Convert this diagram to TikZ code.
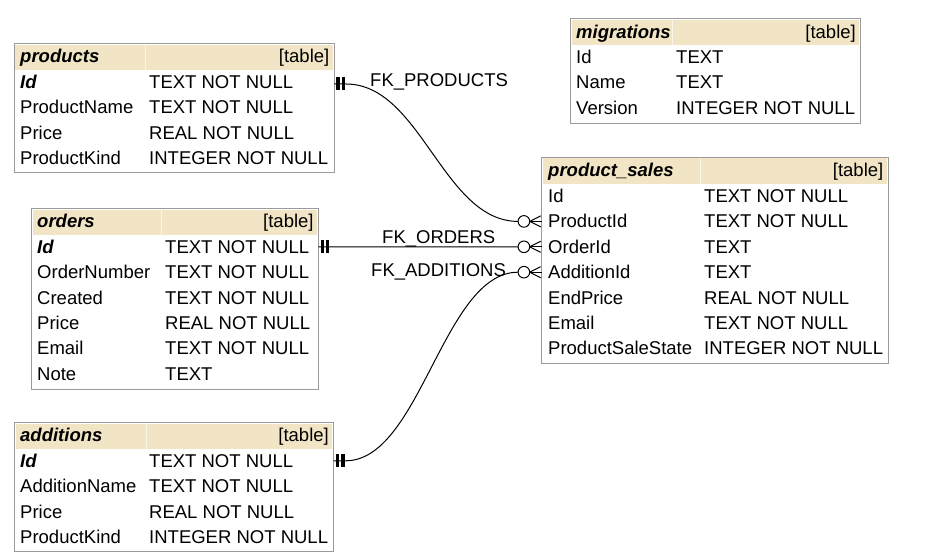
\documentclass[tikz,border=0pt]{standalone}
\usepackage{fontspec}
\setmainfont{Liberation Sans}
\definecolor{boxgray}{HTML}{9A9A9A}
\definecolor{hdrbeige}{HTML}{F1E5C6}
\newcommand{\erdbox}[8]{% name, x1, y1, x2, y2, title, sep x, title x
  \fill[hdrbeige] (#2+1.2,#3+1.2) rectangle (#4-1.2,#3+26.5);
  \draw[white!65!hdrbeige, line width=0.8pt] (#7,#3+1.2) -- (#7,#3+26.5);
  \node[tbox, minimum width={(#4-#2)*1pt}, minimum height={(#5-#3)*1pt}] (#1) at (#2,#3) {};
  \node[cell, font=\erdfont\bfseries\itshape] (#1-title) at (#8,#3+12.8) {#6};
  \node[cell, anchor=east] (#1-kind) at (#4-4.5,#3+12.8) {[table]};
}
\newcommand{\erdrows}[5]{% name, x text, x type, y first, list
  \foreach \a/\b [count=\i] in {#5} {
    \node[cell] (#1-n\i) at (#2,{#4+25.4*(\i-1)}) {\a};
    \node[cell] (#1-t\i) at (#3,{#4+25.4*(\i-1)}) {\b};
  }}
\newcommand{\erdfont}{\fontsize{18.5}{20}\selectfont}
\begin{document}
\begin{tikzpicture}[x=1pt,y=-1pt,
  tbox/.style={draw=boxgray, line width=1pt, inner sep=0pt, outer sep=0pt, anchor=north west},
  cell/.style={inner sep=0pt, anchor=west, text height=13pt, text depth=0pt, font=\erdfont},
  rel/.style={line width=1pt, black},
  onebar/.style={line width=3.2pt, black},
  optcircle/.style={draw=black, line width=1pt, fill=white}]
\useasboundingbox (0,0) rectangle (945,559);

% ---------- products
\erdbox{products}{14}{43.5}{334}{172}{products}{145}{20}
\erdrows{products}{20}{149}{82}{{\textbf{\textit{Id}}}/TEXT NOT NULL, ProductName/TEXT NOT NULL, Price/REAL NOT NULL, ProductKind/INTEGER NOT NULL}

% ---------- migrations
\erdbox{migrations}{570.5}{19}{860.5}{124}{migrations}{672}{576}
\erdrows{migrations}{576}{676}{57}{Id/TEXT, Name/TEXT, Version/INTEGER NOT NULL}

% ---------- orders
\erdbox{orders}{31.5}{208.3}{318.3}{389.5}{orders}{161.5}{37}
\erdrows{orders}{37}{165}{246.8}{{\textbf{\textit{Id}}}/TEXT NOT NULL, OrderNumber/TEXT NOT NULL, Created/TEXT NOT NULL, Price/REAL NOT NULL, Email/TEXT NOT NULL, Note/TEXT}

% ---------- product_sales
\erdbox{sales}{541.7}{157.3}{888}{363.3}{product\_sales}{700}{548}
\erdrows{sales}{548}{704}{196}{Id/TEXT NOT NULL, ProductId/TEXT NOT NULL, OrderId/TEXT, AdditionId/TEXT, EndPrice/REAL NOT NULL, Email/TEXT NOT NULL, ProductSaleState/INTEGER NOT NULL}

% ---------- additions
\erdbox{additions}{14.5}{422.3}{333.5}{551.5}{additions}{146}{20}
\erdrows{additions}{20}{149}{460.8}{{\textbf{\textit{Id}}}/TEXT NOT NULL, AdditionName/TEXT NOT NULL, Price/REAL NOT NULL, ProductKind/INTEGER NOT NULL}

% ---------- connection points
\coordinate[yshift=-2pt] (pfk) at (products.east |- products-n1.west);
\coordinate (ofk) at (orders.east |- orders-n1.west);
\coordinate (afk) at (additions.east |- additions-n1.west);
\coordinate (sp) at (sales.west |- sales-n2.west);
\coordinate (so) at (sales.west |- sales-n3.west);
\coordinate (sa) at (sales.west |- sales-n4.west);

% ---------- FK_PRODUCTS
\draw[rel] (pfk) -- ([shift={(12,0)}]pfk) .. controls +(75,0) and +(-75,0) .. ([shift={(-23.6,0)}]sp);
\node[cell] (lbl-products) at (370,80) {FK\_PRODUCTS};
% ---------- FK_ORDERS
\draw[rel] (ofk) -- ([shift={(-23.6,0)}]so);
\node[cell] (lbl-orders) at (382,236.5) {FK\_ORDERS};
% ---------- FK_ADDITIONS
\draw[rel] (afk) -- ([shift={(12,0)}]afk) .. controls +(75,0) and +(-75,0) .. ([shift={(-23.6,0)}]sa);
\node[cell] (lbl-additions) at (371,270) {FK\_ADDITIONS};

% ---------- one-and-only-one marks
\foreach \p in {pfk,ofk,afk} {
  \draw[onebar] ([shift={(4,-6.5)}]\p) -- ([shift={(4,6.5)}]\p);
  \draw[onebar] ([shift={(9.5,-6.5)}]\p) -- ([shift={(9.5,6.5)}]\p);
}
% ---------- zero-or-many marks
\foreach \p in {sp,so,sa} {
  \draw[rel] ([shift={(-12,0)}]\p) -- (\p);
  \draw[rel] ([shift={(-12,0)}]\p) -- ([shift={(-1,-5.5)}]\p);
  \draw[rel] ([shift={(-12,0)}]\p) -- ([shift={(-1,5.5)}]\p);
  \draw[optcircle] ([shift={(-17.8,0)}]\p) circle[radius=5.8pt];
}
\end{tikzpicture}
\end{document}
